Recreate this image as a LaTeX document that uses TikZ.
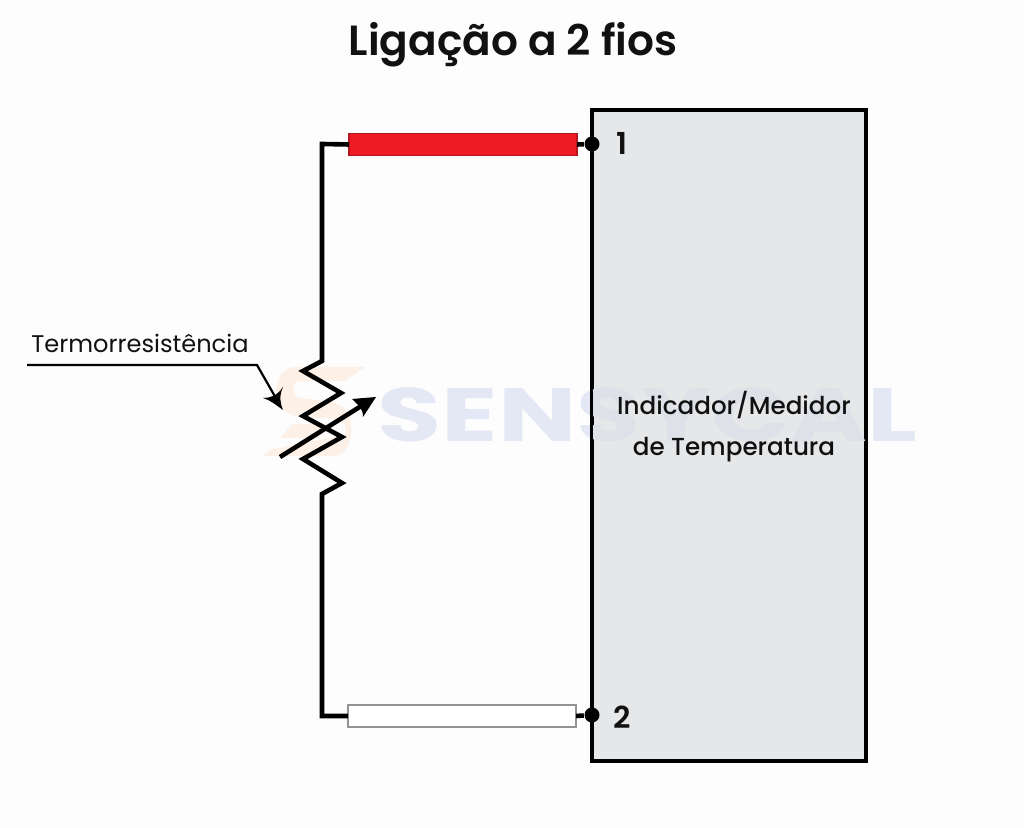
\documentclass[tikz,border=0pt]{standalone}
\usepackage{fontspec}
\setmainfont{Poppins}
\newfontfamily\popsemi{Poppins SemiBold}
\newfontfamily\popmed{Poppins Medium}
\definecolor{bgc}{HTML}{FDFDFD}
\definecolor{boxc}{HTML}{E6E7E9}
\definecolor{redc}{HTML}{ED1C24}
\definecolor{wmblue}{HTML}{E4E7F4}
\definecolor{wmboxc}{HTML}{DFE1E8}
\definecolor{wmorange}{HTML}{FDF0E6}
\definecolor{ink}{HTML}{111111}
\tikzset{
  x=0.01cm,y=-0.01cm,
  wire/.style={draw=black,line width=4.6pt*0.2845,line join=miter},
  thinwire/.style={draw=black,line width=2.2pt*0.2845},
  bar/.style={line width=1.5pt*0.2845,minimum width=2.28cm,minimum height=0.22cm,inner sep=0pt,outer sep=0pt},
  term/.style={circle,fill=black,minimum size=0.15cm,inner sep=0pt},
  lbl/.style={text=ink,inner sep=0pt,font=\popmed\fontsize{7}{8}\selectfont},
  wmtext/.style={inner sep=0pt,xscale=1.38,font=\bfseries\fontsize{21.5}{24}\selectfont},
}
\begin{document}
\begin{tikzpicture}
\useasboundingbox (0,0) rectangle (1024,828);
\fill[bgc] (0,0) rectangle (1024,828);
% watermark logo
\fill[wmorange] (365,367) -- (297,367) .. controls (280,367) and (275,382) .. (277,395) .. controls (279,408) and (288,416) .. (300,417) -- (335,419) .. controls (345,420) and (347,428) .. (345,435) -- (270,450) -- (262,456) -- (335,456) .. controls (352,455) and (353,425) .. (350,418) .. controls (345,404) and (335,402) .. (318,400) -- (300,398) .. controls (290,396) and (292,381) .. (300,381) -- (345,381) -- cycle;
\fill[wmorange] (292,424) -- (330,424) -- (318,438) -- (280,438) -- cycle;
% watermark text
\node[wmtext,text=wmblue] (wm) at (647.5,415) {SENSYCAL};
% instrument box
\node[draw=black,fill=boxc,line width=4.5pt*0.2845,minimum width=2.74cm,minimum height=6.51cm,inner sep=0pt,outer sep=0pt] (inst) at (729,435.5) {};
\begin{scope}
\clip (593,112) rectangle (865,760);
\node[wmtext,text=wmboxc] (wmb) at (647.5,415) {SENSYCAL};
\end{scope}
% bars
\node[bar,fill=redc,draw=redc!75!black] (red) at (463,144.5) {};
\node[bar,fill=white,draw=gray!85] (white) at (462,716) {};
% terminals
\node[term] (t1) at (592,144) {};
\node[term] (t2) at (592,715) {};
% resistor coordinates
\coordinate (ctop) at (322,144);
\coordinate (cbot) at (322,716);
\coordinate (rtop) at (322,361);
\coordinate (rbot) at (322,494);
\draw[wire] (red.west) -- (ctop) -- (rtop) -- (303,371) -- (341,393) -- (303,416) -- (342,437) -- (303,459) -- (342,483) -- (rbot) -- (cbot) -- (white.west);
\draw[wire] (red.east) -- (t1);
\draw[wire] (white.east) -- (t2);
% variable arrow
\coordinate (vs) at (280,457);
\coordinate (vt) at (376,397);
\draw[wire] (vs) -- (362,405.5);
\fill[black] (vt) -- (352,399) .. controls (356,403) and (358,405) .. (360,407) .. controls (362,410) and (363,413) .. (363,417) -- cycle;
% label
\node[lbl,text=ink,font=\fontsize{6.85}{8}\selectfont] (tlabel) at (140,343) {Termorresistência};
\coordinate (ls) at (27,365);
\coordinate (lk) at (257,365);
\coordinate (lt) at (283,410);
\draw[thinwire] (ls) -- (lk) -- (277,400);
\fill[black] (lt) .. controls (276,405) and (270,400) .. (263,398) .. controls (270,398) and (277,396) .. (283,387) .. controls (279,396) and (280,403) .. (lt) -- cycle;
% texts
\node[inner sep=0pt,text=ink,font=\popsemi\fontsize{12}{14}\selectfont] (title) at (513,45) {Ligação a 2 fios};
\node[lbl,font=\popsemi\fontsize{8.6}{10}\selectfont] (n1) at (622,143) {1};
\node[lbl,font=\popsemi\fontsize{8.6}{10}\selectfont] (n2) at (622,717) {2};
\node[lbl] (il1) at (734,405) {Indicador/Medidor};
\node[lbl] (il2) at (734,450) {de Temperatura};
\end{tikzpicture}
\end{document}
